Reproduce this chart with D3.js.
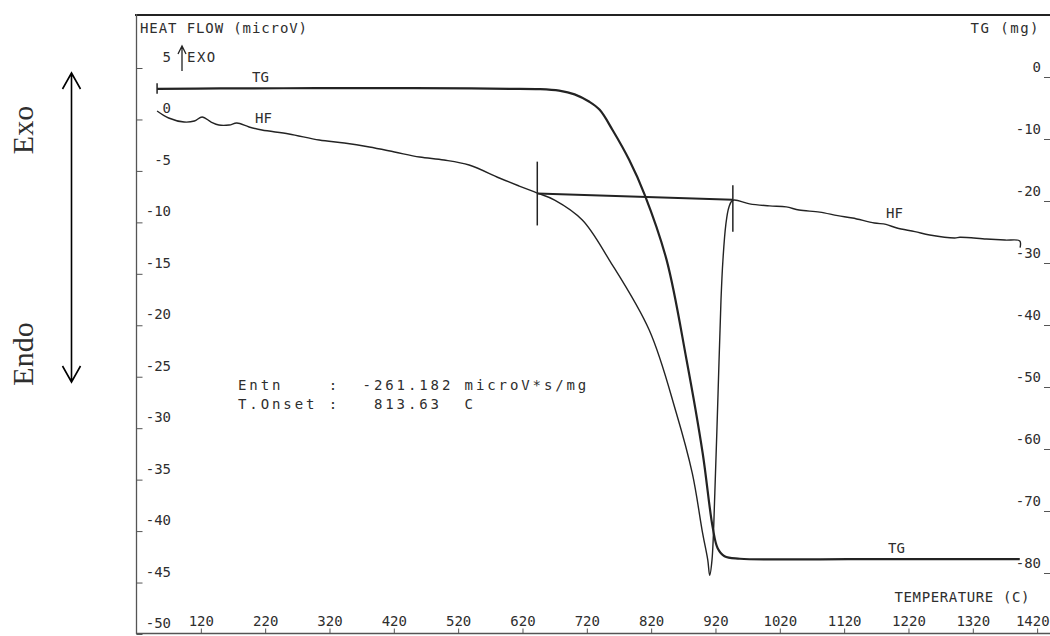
<!DOCTYPE html>
<html>
<head>
  <meta charset="utf-8">
  <title>DTA / TG curve</title>
  <script src="https://d3js.org/d3.v7.min.js"></script>
  <style>
    body { margin: 0; background: #fff; }
    .plot text { font-family: "DejaVu Sans Mono", monospace; font-size: 14px; fill: #2e2e2e; }
  </style>
</head>
<body>
<script>
  // ---- data ----
  var tempTicks = [120, 220, 320, 420, 520, 620, 720, 820, 920, 1020, 1120, 1220, 1320, 1420];
  var hfTicks = [5, 0, -5, -10, -15, -20, -25, -30, -35, -40, -45, -50];
  var tgTicks = [0, -10, -20, -30, -40, -50, -60, -70, -80];

  // heat flow [temperature C, microV]
  var hfData = [
    [52, 0.82], [70, 0.14], [94, -0.25], [110, -0.15], [122, 0.24], [136, -0.25],
    [148, -0.54], [164, -0.54], [176, -0.35], [195, -0.73], [215, -1.03], [257, -1.41],
    [304, -2.0], [343, -2.29], [382, -2.68], [421, -3.16], [460, -3.65], [498, -3.94],
    [537, -4.43], [584, -5.69], [615, -6.47], [643, -7.15], [670, -7.83], [713, -9.77],
    [755, -13.66], [817, -20.46], [859, -28.5], [884, -34.4], [900, -40.2],
    [908, -42.8], [911, -44.3], [914.6, -42.8], [919, -36.3], [924, -26.6], [928.6, -17.5],
    [931.6, -13.66], [936, -10.26], [941, -8.5], [947, -7.85], [973, -8.2], [1004, -8.4],
    [1030, -8.5], [1050, -8.8], [1082, -9.0], [1110, -9.35], [1133, -9.58], [1167, -10.06],
    [1185, -10.2], [1202, -10.55], [1230, -10.9], [1253, -11.23], [1292, -11.52], [1300, -11.45],
    [1341, -11.62], [1370, -11.72], [1393, -11.8], [1393.5, -12.45]
  ];

  // thermogravimetry [temperature C, mg]
  var tgData = [
    [52, -1.9], [150, -1.85], [300, -1.8], [450, -1.78], [540, -1.85], [600, -1.9],
    [646, -1.95], [677, -2.2], [701, -2.8], [724, -4.0], [740, -5.3], [760, -8.55],
    [786, -13.4], [810, -19.0], [844, -29.5], [875, -45.6], [900, -60.6], [915.6, -72.6],
    [923.4, -76.0], [934, -77.3], [958, -77.7], [1129, -77.75], [1393, -77.75]
  ];

  // onset / endset construction
  var baseline = [[643, -7.2], [947, -7.8]];
  var markers = [[643, -4.1, -10.3], [947, -6.4, -10.9]];

  // ---- layout ----
  var W = 1050, H = 636;
  var svg = d3.select("body").append("svg")
      .attr("width", W).attr("height", H)
      .attr("class", "plot");

  var x = d3.scaleLinear().domain([20, 1440]).range([136.5, 1050]);
  var yHF = d3.scaleLinear().domain([-50, 5]).range([634, 68]);
  var yTG = d3.scaleLinear().domain([-80, 0]).range([573, 77]);

  var ink = "#232323";
  var plain = function (d) { return String(d); };   // plotter style: hyphen minus, no grouping

  // frame
  svg.append("line").attr("x1", 135).attr("x2", W).attr("y1", 15).attr("y2", 15)
      .attr("stroke", ink).attr("stroke-width", 2.2);
  svg.append("line").attr("x1", 136.5).attr("x2", 136.5).attr("y1", 14).attr("y2", 634)
      .attr("stroke", "#555").attr("stroke-width", 1.3);
  svg.append("line").attr("x1", 136).attr("x2", W).attr("y1", 633.5).attr("y2", 633.5)
      .attr("stroke", "#555").attr("stroke-width", 1.3);

  // bottom axis: ticks point up, labels above the line
  var gx = svg.append("g").attr("transform", "translate(0,633.5)")
      .call(d3.axisTop(x).tickValues(tempTicks).tickFormat(plain)
        .tickSize(5).tickSizeOuter(0).tickPadding(3));
  gx.select(".domain").remove();
  gx.selectAll("line").attr("stroke", "#555");
  // last label squeezed against the right edge, as on the plot
  gx.selectAll("text").filter(function (d) { return d === 1420; })
      .attr("text-anchor", "end").attr("x", 12);

  // left axis (heat flow)
  var gl = svg.append("g").attr("transform", "translate(136.5,0)")
      .call(d3.axisRight(yHF).tickValues(hfTicks).tickFormat(plain).tickSize(6).tickSizeOuter(0));
  gl.select(".domain").remove();
  gl.selectAll("line").attr("stroke", "#555");
  gl.selectAll("text").attr("x", 34.5).attr("y", -11).attr("text-anchor", "end");

  // right axis (TG)
  var gr = svg.append("g").attr("transform", "translate(1050,0)")
      .call(d3.axisLeft(yTG).tickValues(tgTicks).tickFormat(plain).tickSize(6).tickSizeOuter(0));
  gr.select(".domain").remove();
  gr.selectAll("line").attr("stroke", "#555");
  gr.selectAll("text").attr("x", -9).attr("y", -10);

  svg.selectAll(".tick text").style("font-family", "DejaVu Sans Mono, monospace")
      .style("font-size", "14px").attr("fill", "#2e2e2e");

  // curves
  var lineHF = d3.line().x(function (d) { return x(d[0]); }).y(function (d) { return yHF(d[1]); })
      .curve(d3.curveCatmullRom.alpha(0.5));
  var lineTG = d3.line().x(function (d) { return x(d[0]); }).y(function (d) { return yTG(d[1]); })
      .curve(d3.curveCatmullRom.alpha(0.5));

  svg.append("path").datum(hfData).attr("d", lineHF)
      .attr("fill", "none").attr("stroke", ink).attr("stroke-width", 1.4);
  svg.append("path").datum(tgData).attr("d", lineTG)
      .attr("fill", "none").attr("stroke", ink).attr("stroke-width", 2.2);

  // TG start marker
  svg.append("line").attr("x1", x(52)).attr("x2", x(52))
      .attr("y1", yTG(-1)).attr("y2", yTG(-2.7)).attr("stroke", ink).attr("stroke-width", 1.5);

  // baseline + onset/endset markers
  svg.append("line")
      .attr("x1", x(baseline[0][0])).attr("y1", yHF(baseline[0][1]))
      .attr("x2", x(baseline[1][0])).attr("y2", yHF(baseline[1][1]))
      .attr("stroke", ink).attr("stroke-width", 2);
  svg.selectAll(".marker").data(markers).enter().append("line")
      .attr("class", "marker")
      .attr("x1", function (d) { return x(d[0]); }).attr("x2", function (d) { return x(d[0]); })
      .attr("y1", function (d) { return yHF(d[1]); }).attr("y2", function (d) { return yHF(d[2]); })
      .attr("stroke", ink).attr("stroke-width", 1.5);

  // labels
  function label(tx, ty, s, anchor, ls) {
    svg.append("text").attr("x", tx).attr("y", ty).text(s)
        .attr("text-anchor", anchor || "start")
        .style("letter-spacing", (ls || 0) + "px")
        .style("white-space", "pre");
  }
  label(140, 33, "HEAT FLOW (microV)", "start", 0.9);
  label(187, 62, "EXO", "start", 1.5);
  label(252, 82, "TG");
  label(255, 123, "HF");
  label(886, 218, "HF");
  label(888, 553, "TG");
  label(1040, 33, "TG (mg)", "end", 1.5);
  label(1030, 602, "TEMPERATURE (C)", "end", 0.6);
  label(238, 390, "Entn    :  -261.182 microV*s/mg", "start", 2.9);
  label(238, 409, "T.Onset :   813.63  C", "start", 2.9);

  // little up-arrow next to 5
  svg.append("path").attr("d", "M182,71 L182,47 M178,54 L182,46 L186,54")
      .attr("fill", "none").attr("stroke", ink).attr("stroke-width", 1.3);

  // Exo / Endo annotation on the far left
  svg.append("path").attr("d", "M71.5,73 L71.5,382 M62.5,89 L71.5,73 L80.5,89 M62.5,366 L71.5,382 L80.5,366")
      .attr("fill", "none").attr("stroke", "#000").attr("stroke-width", 1.6);
  svg.append("text").attr("transform", "translate(33,130) rotate(-90)")
      .attr("text-anchor", "middle").text("Exo")
      .style("font-family", "Liberation Serif, serif").style("font-size", "30px").attr("fill", "#000");
  svg.append("text").attr("transform", "translate(33,354) rotate(-90)")
      .attr("text-anchor", "middle").text("Endo")
      .style("font-family", "Liberation Serif, serif").style("font-size", "30px").attr("fill", "#000");
</script>
</body>
</html>
